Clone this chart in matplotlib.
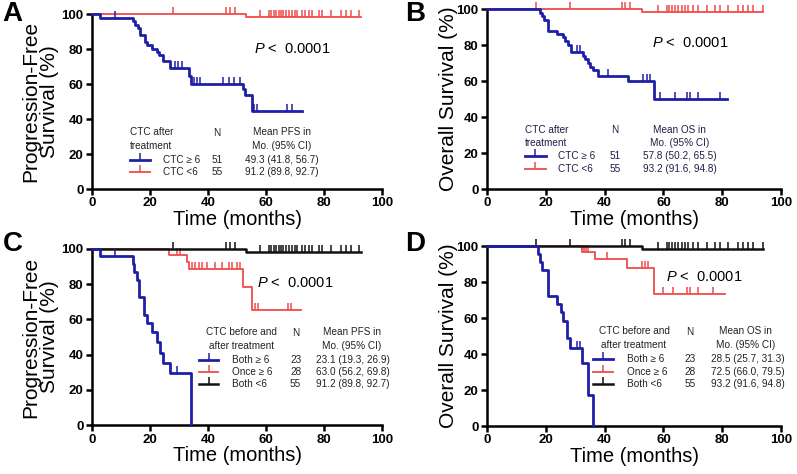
import matplotlib.pyplot as plt

plt.rcParams['font.family'] = ['Liberation Sans', 'DejaVu Sans']
plt.rcParams['mathtext.fontset'] = 'custom'
plt.rcParams['mathtext.it'] = 'Liberation Sans:italic'
plt.rcParams['mathtext.rm'] = 'Liberation Sans'

# PFS, CTC after treatment >= 6 (N=51)
pfs_hi_t = [2.7, 14.1, 14.9, 15.7, 16.5, 18.2, 19.0, 20.6, 22.3, 23.2, 24.4, 26.9, 33.5, 34.2, 52.1, 52.9, 55.2]
pfs_hi_s = [98.0, 96.0, 94.0, 92.0, 88.2, 84.3, 82.3, 80.4, 78.4, 76.5, 73.5, 69.0, 64.6, 60.3, 57.0, 53.6, 44.7]
pfs_hi_cens = [7.9, 28.6, 29.8, 30.9, 35.0, 36.1, 37.1, 45.2, 47.1, 48.8, 50.9, 55.8, 56.9, 67.3, 69.1]
pfs_hi_end = 72.5

# PFS, CTC < 6 (N=55) -- also "Both <6" in panel C
pfs_lo_t = [53.1]
pfs_lo_s = [98.2]
pfs_lo_cens = [28.1, 46.3, 47.5, 49.2, 58.0, 61.0, 61.8, 62.6, 63.5, 64.4, 65.2, 66.0, 66.9, 67.8,
               68.9, 70.1, 70.7, 72.5, 73.6, 74.8, 76.0, 78.3, 79.4, 82.3, 85.8, 87.5, 89.3, 92.1]
pfs_lo_end = 92.7

# OS, CTC after treatment >= 6 (N=51)
os_hi_t = [18.1, 18.8, 19.4, 20.7, 23.8, 25.7, 26.6, 27.7, 28.5, 32.8, 33.4, 34.3, 35.1, 36.2, 37.9, 48.1, 56.9]
os_hi_s = [98.0, 96.0, 94.0, 88.0, 86.1, 84.2, 82.1, 80.0, 76.1, 74.0, 72.0, 70.0, 68.0, 65.9, 63.0, 60.2, 50.2]
os_hi_cens = [30.6, 31.7, 41.3, 53.2, 54.4, 55.5, 58.9, 64.0, 68.0, 69.1, 71.9, 79.3]
os_hi_end = 81.5

# OS, CTC < 6 (N=55) -- also "Both <6" in panel D
os_lo_t = [52.8]
os_lo_s = [98.2]
os_lo_cens = [16.8, 28.1, 45.9, 47.0, 48.7, 58.0, 61.2, 62.0, 62.9, 64.0, 65.1, 66.3, 67.4, 68.5,
              70.2, 71.9, 74.7, 77.6, 79.3, 82.1, 85.5, 87.2, 88.9, 90.6, 94.0]
os_lo_end = 94.0

# PFS, both >= 6 (N=23)
pfs_both_t = [2.6, 14.0, 14.6, 15.5, 16.3, 18.0, 19.1, 20.8, 22.5, 23.5, 24.6, 26.8, 34.0]
pfs_both_s = [95.7, 91.3, 87.0, 82.6, 72.5, 62.5, 58.1, 53.0, 47.3, 41.1, 35.4, 29.7, 0.0]
pfs_both_cens = [8.1, 29.4]
pfs_both_end = 34.0

# PFS, once >= 6 (N=28)
pfs_once_t = [26.5, 32.6, 33.4, 52.2, 55.0]
pfs_once_s = [96.4, 92.8, 88.4, 78.6, 65.6]
pfs_once_cens = [29.4, 30.5, 34.5, 35.6, 36.8, 37.9, 39.6, 42.5, 44.8, 47.1, 48.2, 49.9, 51.0,
                 56.1, 57.3, 67.5, 68.7]
pfs_once_end = 72.1

# OS, both >= 6 (N=23)
os_both_t = [17.3, 18.1, 18.7, 20.6, 23.8, 25.3, 26.0, 27.2, 28.3, 32.3, 34.5, 36.0]
os_both_s = [95.7, 91.3, 86.7, 72.4, 67.6, 63.5, 58.5, 48.7, 43.5, 35.0, 17.4, 0.0]
os_both_cens = [30.6, 31.7]
os_both_end = 36.0

# OS, once >= 6 (N=28)
os_once_t = [32.2, 36.7, 47.5, 56.9]
os_once_s = [96.4, 92.6, 87.6, 73.1]
os_once_cens = [32.9, 33.6, 34.3, 40.8, 52.7, 53.8, 54.9, 60.0, 63.4, 68.0, 69.1, 71.9, 77.0]
os_once_end = 81.0

ticks = [0, 20, 40, 60, 80, 100]

BLUE = '#1f1fa6'
RED = '#f04a4a'
BLACK = '#111111'
TXT = '#222222'


def surv_at(t, times, surv):
    s = 100.0
    for ti, si in zip(times, surv):
        if ti <= t:
            s = si
    return s


def km(ax, times, surv, cens, end, color, lw):
    x = [0] + list(times) + [end]
    y = [100] + list(surv) + [surv[-1]]
    ax.step(x, y, where='post', color=color, lw=lw, clip_on=False, zorder=3)
    cy = [surv_at(c, times, surv) for c in cens]
    ax.plot(cens, cy, ls='none', marker=2, ms=5, mew=1.1, color=color, clip_on=False, zorder=3)


def style(ax, ylabel, ylab_x, p_xy):
    ax.set_xlim(0, 100)
    ax.set_ylim(0, 100)
    ax.set_xticks(ticks)
    ax.set_yticks(ticks)
    for s in ['top', 'right']:
        ax.spines[s].set_visible(False)
    for s in ['left', 'bottom']:
        ax.spines[s].set_linewidth(1.8)
    ax.tick_params(direction='out', length=4, width=1.8, labelsize=9.5, pad=2)
    for lab in ax.get_xticklabels() + ax.get_yticklabels():
        lab.set_fontweight('bold')
    ax.set_xlabel('Time (months)', fontsize=14.5)
    ax.xaxis.set_label_coords(0.5, -0.118)
    ax.xaxis.label.set_va('top')
    ax.set_ylabel(ylabel, fontsize=15, linespacing=1.0)
    ax.yaxis.set_label_coords(ylab_x, 0.5)
    ax.text(p_xy[0], p_xy[1], r'$\it{P}$ <  0.0001', fontsize=10.5, va='center')


def legend_table(ax, head, head_x, n_x, mean_x, rows, row_y, line_x, lab_x, val_x, head_y, tcol):
    fs = 7.2
    ax.text(head_x[0], head_y, head[0], fontsize=fs, ha=head_x[1], va='center', color=tcol, linespacing=1.45)
    ax.text(n_x, head_y + 3.5, 'N', fontsize=fs, ha='center', va='center', color=tcol)
    ax.text(mean_x, head_y, head[1], fontsize=fs, ha='center', va='center', color=tcol, linespacing=1.45)
    for (label, n, val, color, lw), y in zip(rows, row_y):
        ax.plot(line_x, [y, y], color=color, lw=lw, clip_on=False)
        ax.plot([sum(line_x) / 2], [y], marker=2, ms=5, mew=1.1, color=color, clip_on=False)
        ax.text(lab_x, y, label, fontsize=fs, va='center', color=tcol)
        ax.text(n_x, y, n, fontsize=fs, ha='center', va='center', color=tcol)
        ax.text(val_x, y, val, fontsize=fs, ha='center', va='center', color=tcol)


fig = plt.figure(figsize=(7.97, 4.74), dpi=100)
axA = fig.add_axes([0.1154, 0.601, 0.3640, 0.369])
axB = fig.add_axes([0.611, 0.601, 0.369, 0.380])
axC = fig.add_axes([0.1154, 0.103, 0.3640, 0.372])
axD = fig.add_axes([0.611, 0.101, 0.369, 0.380])

# A
km(axA, pfs_lo_t, pfs_lo_s, pfs_lo_cens, pfs_lo_end, RED, 1.3)
km(axA, pfs_hi_t, pfs_hi_s, pfs_hi_cens, pfs_hi_end, BLUE, 2.0)
style(axA, 'Progression-Free\nSurvival (%)', -0.112, (56, 80))
legend_table(axA, ('CTC after\ntreatment', 'Mean PFS in\nMo. (95% CI)'), (13, 'left'), 43, 65.5,
             [('CTC ≥ 6', '51', '49.3 (41.8, 56.7)', BLUE, 2.0),
              ('CTC <6', '55', '91.2 (89.8, 92.7)', RED, 1.3)],
             [16.6, 9.7], [13, 20], 24.6, 65.5, 28.5, TXT)

# B
km(axB, os_lo_t, os_lo_s, os_lo_cens, os_lo_end, RED, 1.3)
km(axB, os_hi_t, os_hi_s, os_hi_cens, os_hi_end, BLUE, 2.0)
style(axB, 'Overall Survival (%)', -0.1, (56, 81))
legend_table(axB, ('CTC after\ntreatment', 'Mean OS in\nMo. (95% CI)'), (13, 'left'), 43.5, 65.5,
             [('CTC ≥ 6', '51', '57.8 (50.2, 65.5)', BLUE, 2.0),
              ('CTC <6', '55', '93.2 (91.6, 94.8)', RED, 1.3)],
             [18.5, 11.1], [13, 20], 24.0, 65.5, 29.2, '#1e1e48')

# C
km(axC, pfs_once_t, pfs_once_s, pfs_once_cens, pfs_once_end, RED, 1.3)
km(axC, pfs_lo_t, pfs_lo_s, pfs_lo_cens, pfs_lo_end, BLACK, 1.8)
km(axC, pfs_both_t, pfs_both_s, pfs_both_cens, pfs_both_end, BLUE, 2.0)
style(axC, 'Progression-Free\nSurvival (%)', -0.112, (57, 80.5))
legend_table(axC, ('CTC before and\nafter treatment', 'Mean PFS in\nMo. (95% CI)'), (51.5, 'center'), 70.2, 89.5,
             [('Both ≥ 6', '23', '23.1 (19.3, 26.9)', BLUE, 2.0),
              ('Once ≥ 6', '28', '63.0 (56.2, 69.8)', RED, 1.3),
              ('Both <6', '55', '91.2 (89.8, 92.7)', BLACK, 1.8)],
             [37.1, 30.1, 23.5], [37, 43.6], 48.3, 89.8, 48.8, TXT)

# D
km(axD, os_once_t, os_once_s, os_once_cens, os_once_end, RED, 1.3)
km(axD, os_lo_t, os_lo_s, os_lo_cens, os_lo_end, BLACK, 1.8)
km(axD, os_both_t, os_both_s, os_both_cens, os_both_end, BLUE, 2.0)
style(axD, 'Overall Survival (%)', -0.1, (61, 83))
legend_table(axD, ('CTC before and\nafter treatment', 'Mean OS in\nMo. (95% CI)'), (50, 'center'), 69, 88,
             [('Both ≥ 6', '23', '28.5 (25.7, 31.3)', BLUE, 2.0),
              ('Once ≥ 6', '28', '72.5 (66.0, 79.5)', RED, 1.3),
              ('Both <6', '55', '93.2 (91.6, 94.8)', BLACK, 1.8)],
             [37.0, 30.0, 23.5], [36, 43], 47.5, 88.8, 48.8, TXT)

fig.text(0.003, 0.997, 'A', fontsize=20, fontweight='bold', va='top')
fig.text(0.508, 0.997, 'B', fontsize=20, fontweight='bold', va='top')
fig.text(0.003, 0.512, 'C', fontsize=20, fontweight='bold', va='top')
fig.text(0.508, 0.512, 'D', fontsize=20, fontweight='bold', va='top')

fig.savefig('out.png', dpi=100)
